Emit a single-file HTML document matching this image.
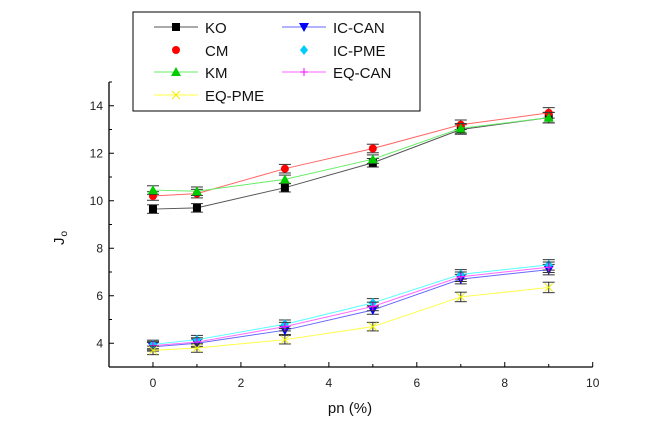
<!DOCTYPE html>
<html><head><meta charset="utf-8"><style>
body{margin:0;background:#fff;}
svg{display:block;font-family:"Liberation Sans",Arial,sans-serif;}
</style></head><body>
<svg id="chart" width="649" height="440" viewBox="0 0 649 440"></svg>
<script>
const xValues=[0,1,3,5,7,9];
const seriesNames=["KO","CM","KM","IC-CAN","IC-PME","EQ-CAN","EQ-PME"];
const koValues=[9.65,9.7,10.55,11.6,13.0,13.5];
const cmValues=[10.2,10.3,11.35,12.2,13.2,13.7];
const kmValues=[10.45,10.4,10.9,11.75,13.05,13.5];
const icCanValues=[3.85,4.0,4.55,5.4,6.7,7.1];
const icPmeValues=[3.95,4.15,4.8,5.7,6.9,7.3];
const eqCanValues=[3.9,4.05,4.7,5.55,6.8,7.2];
const eqPmeValues=[3.7,3.8,4.15,4.7,5.95,6.35];
const errValues=[0.18,0.18,0.18,0.18,0.2,0.22];
const xTicks=[0,2,4,6,8,10];
const yTicks=[4,6,8,10,12,14];

const NS="http://www.w3.org/2000/svg";
const svg=document.getElementById('chart');
const X0=109,X1=592.7,Y0=367,Y1=82,xmin=-1,xmax=10,ymin=3,ymax=15;
const xs=v=>X0+(v-xmin)/(xmax-xmin)*(X1-X0);
const ys=v=>Y0-(v-ymin)/(ymax-ymin)*(Y0-Y1);
function mk(t,a,p){const e=document.createElementNS(NS,t);for(const k in a)e.setAttribute(k,a[k]);(p||svg).appendChild(e);return e;}

const axes=mk('g',{});


mk('line',{x1:X0,y1:Y1,x2:X0,y2:Y0,stroke:'#000','stroke-width':1.3},axes);
mk('line',{x1:X0,y1:Y0,x2:X1,y2:Y0,stroke:'#000','stroke-width':1.3},axes);
for(let v=xmin;v<=xmax;v++){const x=xs(v);mk('line',{x1:x,y1:Y0,x2:x,y2:Y0-(v%2===0?5:3),stroke:'#000'},axes);}
xTicks.forEach(v=>{const t=mk('text',{x:xs(v),y:Y0+20,'text-anchor':'middle','font-size':12,fill:'#222'},axes);t.textContent=v;
});
for(let v=ymin;v<=ymax;v++){const y=ys(v);mk('line',{x1:X0,y1:y,x2:X0+(v%2===0?5:3),y2:y,stroke:'#000'},axes);}
yTicks.forEach(v=>{const t=mk('text',{x:X0-6,y:ys(v)+4,'text-anchor':'end','font-size':12,fill:'#222'},axes);t.textContent=v;
});
const xt=mk('text',{x:350,y:413,'text-anchor':'middle','font-size':15,fill:'#111'});xt.textContent='pn (%)';

const yt=mk('text',{transform:'translate(64,238) rotate(-90)','text-anchor':'middle','font-size':15,fill:'#111'});
yt.innerHTML='J<tspan font-size="10" dy="3" dx="1">o</tspan>';


function marker(g,shape,color,x,y){
 if(shape==='square')mk('rect',{x:x-4,y:y-4,width:8,height:8,fill:color},g);
 else if(shape==='circle')mk('circle',{cx:x,cy:y,r:4,fill:color},g);
 else if(shape==='tri')mk('polygon',{points:`${x},${y-5} ${x-5},${y+4} ${x+5},${y+4}`,fill:color},g);
 else if(shape==='tridown')mk('polygon',{points:`${x},${y+5} ${x-5},${y-4} ${x+5},${y-4}`,fill:color},g);
 else if(shape==='diamond')mk('polygon',{points:`${x},${y-5} ${x+4},${y} ${x},${y+5} ${x-4},${y}`,fill:color},g);
 else if(shape==='plus'){mk('line',{x1:x-4,y1:y,x2:x+4,y2:y,stroke:color},g);mk('line',{x1:x,y1:y-4,x2:x,y2:y+4,stroke:color},g);}
 else if(shape==='x'){mk('line',{x1:x-4,y1:y-4,x2:x+4,y2:y+4,stroke:color},g);mk('line',{x1:x-4,y1:y+4,x2:x+4,y2:y-4,stroke:color},g);}
}
const defs=[
 [koValues,'#555','#000','square','series-ko'],
 [cmValues,'#f66','#f00','circle','series-cm'],
 [kmValues,'#6e6','#0c0','tri','series-km'],
 [icCanValues,'#66f','#00f','tridown','series-ic-can'],
 [icPmeValues,'#5ff','#0cf','diamond','series-ic-pme'],
 [eqCanValues,'#f6f','#f0f','plus','series-eq-can'],
 [eqPmeValues,'#ff4','#ee0','x','series-eq-pme']];
defs.forEach(([vals,lc,mc,shape,name])=>{
 const g=mk('g',{});
 
 
 mk('polyline',{points:xValues.map((x,i)=>xs(x)+','+ys(vals[i])).join(' '),fill:'none',stroke:lc,'stroke-width':1},g);
 xValues.forEach((x,i)=>{const px=xs(x),t=ys(vals[i]+errValues[i]),b=ys(vals[i]-errValues[i]);
  mk('line',{x1:px,y1:t,x2:px,y2:b,stroke:'#333'},g);
  mk('line',{x1:px-6,y1:t,x2:px+6,y2:t,stroke:'#333'},g);
  mk('line',{x1:px-6,y1:b,x2:px+6,y2:b,stroke:'#333'},g);
  marker(g,shape,mc,px,ys(vals[i]));});
});

const lg=mk('g',{});


mk('rect',{x:133,y:12,width:287,height:99,fill:'#fff',stroke:'#000','stroke-width':1},lg);
const pos=[[155,27],[155,50],[155,72],[283,27],[283,50],[283,72],[155,95]];
const lineOn=[true,false,true,true,false,true,true];
defs.forEach((d,i)=>{const [x,y]=pos[i];
 if(lineOn[i])mk('line',{x1:x-1,y1:y,x2:x+43,y2:y,stroke:d[1]},lg);
 marker(lg,d[3],d[2],x+21,y);
 const t=mk('text',{x:x+50,y:y+6,'font-size':15,fill:'#111'},lg);t.textContent=seriesNames[i];
 });
</script>
</body></html>
